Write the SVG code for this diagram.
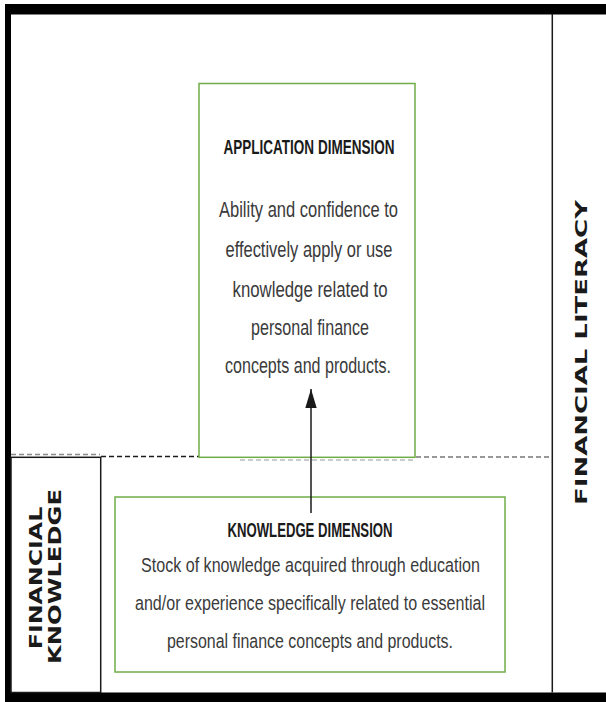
<svg xmlns="http://www.w3.org/2000/svg" width="606" height="702" viewBox="0 0 606 702">
<style>
.frame{fill:#000}
.thin{stroke:#1a1a1a;stroke-width:1.5;fill:none}
.box{fill:#fff;stroke:#70ad47;stroke-width:1.5}
.head{font-family:"Liberation Sans Narrow","Liberation Sans",sans-serif;font-weight:bold;font-size:20px;fill:#1a1a1a;text-anchor:middle}
.body{font-family:"Liberation Sans Narrow","Liberation Sans",sans-serif;font-size:22px;fill:#3a3a3a;text-anchor:middle}
.kb{font-size:20.5px}
.side{font-family:"DejaVu Sans",sans-serif;font-weight:bold;fill:#1a1a1a;text-anchor:middle}
</style>
<defs>
<marker id="arr" markerWidth="20" markerHeight="12" refX="19" refY="6" orient="auto" markerUnits="userSpaceOnUse" viewBox="0 0 20 12">
<path d="M0,0.3 L19,6 L0,11.7 Z" fill="#1a1a1a"/>
</marker>
</defs>
<rect width="606" height="702" fill="#fff"/>
<g id="frame">
<rect class="frame" x="5" y="4" width="601" height="10.5"/>
<rect class="frame" x="5" y="4" width="6" height="698"/>
<rect class="frame" x="5" y="692.5" width="601" height="9.5"/>
<line class="thin" x1="552.3" y1="14" x2="552.3" y2="692.5"/>
</g>
<g id="literacy-label">
<text class="side" font-size="16.5" transform="translate(586.5,352.5) rotate(-90)" textLength="305" lengthAdjust="spacingAndGlyphs">FINANCIAL LITERACY</text>
</g>
<g id="financial-knowledge">
<rect x="11" y="457.3" width="89.7" height="235.2" fill="#fff" stroke="#1a1a1a" stroke-width="1.5"/>
<text class="side" font-size="17.5" transform="translate(41.7,578) rotate(-90)" textLength="142.6" lengthAdjust="spacingAndGlyphs">FINANCIAL</text>
<text class="side" font-size="17.5" transform="translate(60.7,576.5) rotate(-90)" textLength="175" lengthAdjust="spacingAndGlyphs">KNOWLEDGE</text>
</g>
<g id="divider">
<line x1="11" y1="454.5" x2="100" y2="454.5" stroke="#888" stroke-width="1.5" stroke-dasharray="5,3"/>
<line x1="101" y1="456.5" x2="199" y2="456.5" stroke="#1a1a1a" stroke-width="1.5" stroke-dasharray="5,3"/>
<line x1="240" y1="460" x2="415" y2="460" stroke="#bbb" stroke-width="1.5" stroke-dasharray="5,3"/>
<line x1="416" y1="457" x2="552" y2="457" stroke="#777" stroke-width="1.5" stroke-dasharray="5,3"/>
</g>
<g id="application-dimension">
<rect class="box" x="199" y="83.5" width="216" height="373.8"/>
<text class="head" x="309" y="154" textLength="171" lengthAdjust="spacingAndGlyphs">APPLICATION DIMENSION</text>
<text class="body" x="308.5" y="217" textLength="179" lengthAdjust="spacingAndGlyphs">Ability and confidence to</text>
<text class="body" x="309" y="257" textLength="167" lengthAdjust="spacingAndGlyphs">effectively apply or use</text>
<text class="body" x="310" y="297" textLength="155" lengthAdjust="spacingAndGlyphs">knowledge related to</text>
<text class="body" x="310" y="335" textLength="118" lengthAdjust="spacingAndGlyphs">personal finance</text>
<text class="body" x="308" y="373" textLength="166" lengthAdjust="spacingAndGlyphs">concepts and products.</text>
</g>
<g id="knowledge-dimension">
<rect class="box" x="115" y="497" width="390" height="175"/>
<text class="head" x="310" y="536.5" textLength="165" lengthAdjust="spacingAndGlyphs">KNOWLEDGE DIMENSION</text>
<text class="body kb" x="310.5" y="571.5" textLength="339" lengthAdjust="spacingAndGlyphs">Stock of knowledge acquired through education</text>
<text class="body kb" x="310" y="610" textLength="350" lengthAdjust="spacingAndGlyphs">and/or experience specifically related to essential</text>
<text class="body kb" x="310" y="648" textLength="286" lengthAdjust="spacingAndGlyphs">personal finance concepts and products.</text>
</g>
<g id="connectors">
<line x1="311" y1="513" x2="311" y2="389" stroke="#1a1a1a" stroke-width="1.5" marker-end="url(#arr)"/>
</g>
</svg>
